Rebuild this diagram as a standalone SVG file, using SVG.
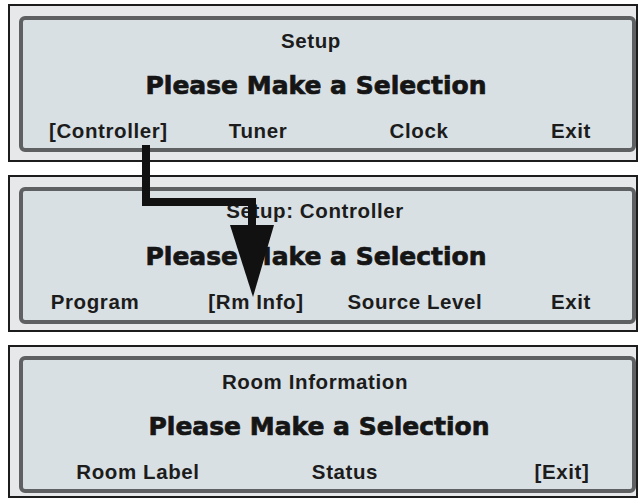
<svg xmlns="http://www.w3.org/2000/svg" width="639" height="499" viewBox="0 0 639 499">
<style>
.outer{fill:#e6e8ea;stroke:#1c1c1c;stroke-width:2}
.inner{fill:#d9e0e4;stroke:#5e6062;stroke-width:4}
.lbl{font-family:"Liberation Sans",Arial,sans-serif;font-weight:bold;font-size:20.5px;letter-spacing:0.6px;fill:#1c1c1c}
.big{font-family:"DejaVu Sans",sans-serif;font-weight:bold;font-size:25px;fill:#151515;stroke:#151515;stroke-width:0.7;text-anchor:middle}
.mid{text-anchor:middle}
.conn{fill:none;stroke:#111;stroke-width:8;stroke-linejoin:miter}
</style>
<rect width="639" height="499" fill="#ffffff"/>
<g id="setup">
<rect class="outer" x="9" y="5" width="628" height="156"/>
<rect class="inner" x="21" y="18" width="613" height="132" rx="4"/>
<text class="lbl mid" x="311" y="48">Setup</text>
<text class="big" x="316" y="94">Please Make a Selection</text>
<text class="lbl" x="49" y="138">[Controller]</text>
<text class="lbl mid" x="258" y="138">Tuner</text>
<text class="lbl mid" x="419" y="138">Clock</text>
<text class="lbl mid" x="571" y="138">Exit</text>
</g>
<g id="setup-controller">
<rect class="outer" x="9" y="176" width="628" height="155"/>
<rect class="inner" x="21" y="189" width="613" height="133" rx="4"/>
<text class="lbl mid" x="315" y="218">Setup: Controller</text>
<text class="big" x="316" y="265">Please Make a Selection</text>
<text class="lbl mid" x="95" y="309">Program</text>
<text class="lbl mid" x="256" y="309">[Rm Info]</text>
<text class="lbl mid" x="415" y="309">Source Level</text>
<text class="lbl mid" x="571" y="309">Exit</text>
</g>
<g id="room-information">
<rect class="outer" x="9" y="346" width="628" height="151"/>
<rect class="inner" x="21" y="358" width="613" height="133" rx="4"/>
<text class="lbl mid" x="315" y="389">Room Information</text>
<text class="big" x="319" y="435">Please Make a Selection</text>
<text class="lbl mid" x="138" y="479">Room Label</text>
<text class="lbl mid" x="345" y="479">Status</text>
<text class="lbl mid" x="562" y="479">[Exit]</text>
</g>
<g id="connectors">
<polyline class="conn" points="146,145 146,202 252,202 252,228"/>
<polygon points="230,225 274,225 253,297" fill="#111"/>
</g>
</svg>
